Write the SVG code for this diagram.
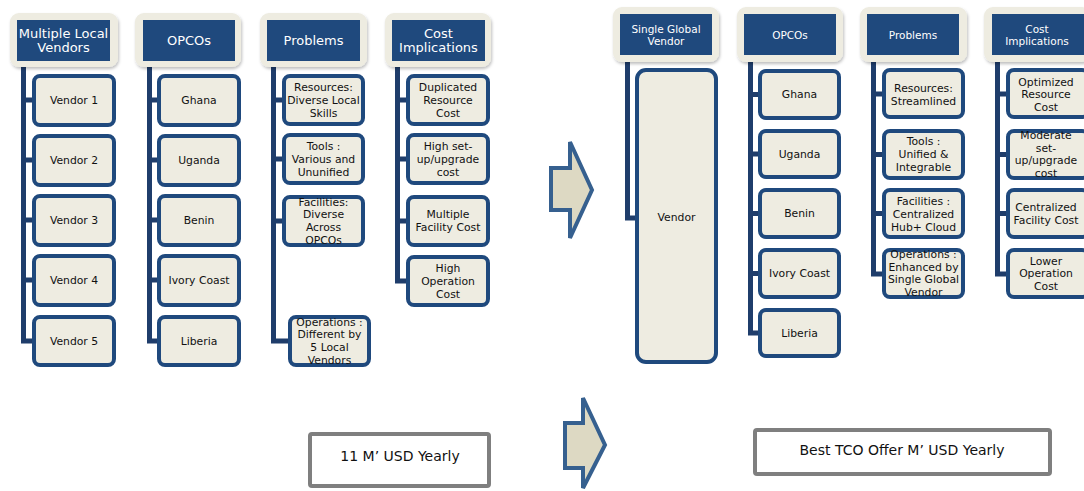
<svg xmlns="http://www.w3.org/2000/svg" width="1084" height="491" viewBox="0 0 1084 491">
<defs>
<filter id="sh" x="-10%" y="-10%" width="125%" height="130%">
<feDropShadow dx="1" dy="2" stdDeviation="1.5" flood-color="#000" flood-opacity="0.25"/>
</filter>
<style>
.hout{fill:#EEECE1;filter:url(#sh)}
.hin{fill:#1F497D}
.ht{fill:#fff;font-family:"DejaVu Sans",Verdana,sans-serif;font-size:13px;text-anchor:middle;dominant-baseline:central}
.hts{fill:#fff;font-family:"DejaVu Sans",Verdana,sans-serif;font-size:10.5px;text-anchor:middle;dominant-baseline:central}
.box{fill:#EEECE1;stroke:#1F497D;stroke-width:4}
.t{fill:#111;font-family:"DejaVu Sans",Verdana,sans-serif;font-size:10.8px;text-anchor:middle;dominant-baseline:central}
.ln{fill:none;stroke:#1F3D6B;stroke-width:5}
.arr{fill:#DDD9C3;stroke:#36608F;stroke-width:4;stroke-linejoin:miter}
.tot{fill:#fff;stroke:#7F7F7F;stroke-width:4}
.tt{fill:#111;font-family:"DejaVu Sans",Verdana,sans-serif;font-size:14px;text-anchor:middle;dominant-baseline:central}
</style>
</defs>
<rect width="1084" height="491" fill="#fff"/>

<g id="connectors">
<path class="ln" d="M23.5,60 V341 H33 M23.5,100 H33 M23.5,160 H33 M23.5,220 H33 M23.5,280 H33"/>
<path class="ln" d="M149.5,60 V341 H158 M149.5,100 H158 M149.5,160 H158 M149.5,220 H158 M149.5,280 H158"/>
<path class="ln" d="M273.5,60 V341 H289 M273.5,100 H283 M273.5,159 H283 M273.5,221 H283"/>
<path class="ln" d="M397.5,60 V281 H407 M397.5,100 H407 M397.5,159 H407 M397.5,221 H407"/>
<path class="ln" d="M627.5,54 V218 H636"/>
<path class="ln" d="M750.5,54 V333 H759 M750.5,94.5 H759 M750.5,154 H759 M750.5,213.5 H759 M750.5,273.5 H759"/>
<path class="ln" d="M873.5,54 V274 H883 M873.5,94 H883 M873.5,154.5 H883 M873.5,213.5 H883"/>
<path class="ln" d="M997.5,54 V274 H1007 M997.5,94 H1007 M997.5,154.5 H1007 M997.5,213.5 H1007"/>
</g>

<!-- Left side headers -->
<g id="h-multiple">
<rect class="hout" x="10" y="13" width="108" height="54" rx="9"/>
<rect class="hin" x="17" y="20" width="93" height="41"/>
<text class="ht" x="63.5" y="33">Multiple Local</text>
<text class="ht" x="63.5" y="47">Vendors</text>
</g>
<g id="h-opcos-l">
<rect class="hout" x="135" y="13" width="106" height="54" rx="9"/>
<rect class="hin" x="143" y="20" width="92" height="41"/>
<text class="ht" x="189" y="40.5">OPCOs</text>
</g>
<g id="h-problems-l">
<rect class="hout" x="260" y="13" width="107" height="54" rx="9"/>
<rect class="hin" x="267" y="20" width="93" height="41"/>
<text class="ht" x="313.5" y="40.5">Problems</text>
</g>
<g id="h-cost-l">
<rect class="hout" x="385" y="13" width="106" height="54" rx="9"/>
<rect class="hin" x="392" y="20" width="93" height="41"/>
<text class="ht" x="438.5" y="33">Cost</text>
<text class="ht" x="438.5" y="47">Implications</text>
</g>

<!-- Left col 1 -->
<g id="vendor1"><rect class="box" x="34" y="76" width="80" height="49" rx="6"/><text class="t" x="74" y="100.5">Vendor 1</text></g>
<g id="vendor2"><rect class="box" x="34" y="136" width="80" height="49" rx="6"/><text class="t" x="74" y="160.5">Vendor 2</text></g>
<g id="vendor3"><rect class="box" x="34" y="196" width="80" height="49" rx="6"/><text class="t" x="74" y="220.5">Vendor 3</text></g>
<g id="vendor4"><rect class="box" x="34" y="256" width="80" height="49" rx="6"/><text class="t" x="74" y="280.5">Vendor 4</text></g>
<g id="vendor5"><rect class="box" x="34" y="317" width="80" height="48" rx="6"/><text class="t" x="74" y="341">Vendor 5</text></g>

<!-- Left col 2 -->
<g id="ghana-l"><rect class="box" x="159" y="76" width="80" height="49" rx="6"/><text class="t" x="199" y="100.5">Ghana</text></g>
<g id="uganda-l"><rect class="box" x="159" y="136" width="80" height="49" rx="6"/><text class="t" x="199" y="160.5">Uganda</text></g>
<g id="benin-l"><rect class="box" x="159" y="196" width="80" height="49" rx="6"/><text class="t" x="199" y="220.5">Benin</text></g>
<g id="ivory-l"><rect class="box" x="159" y="256" width="80" height="49" rx="6"/><text class="t" x="199" y="280.5">Ivory Coast</text></g>
<g id="liberia-l"><rect class="box" x="159" y="317" width="80" height="48" rx="6"/><text class="t" x="199" y="341">Liberia</text></g>

<!-- Left col 3 -->
<g id="res-l"><rect class="box" x="284" y="76" width="79" height="48" rx="6"/>
<text class="t" x="323.5" y="87">Resources:</text><text class="t" x="323.5" y="100">Diverse Local</text><text class="t" x="323.5" y="113">Skills</text></g>
<g id="tools-l"><rect class="box" x="284" y="135" width="79" height="48" rx="6"/>
<text class="t" x="323.5" y="146">Tools :</text><text class="t" x="323.5" y="159">Various and</text><text class="t" x="323.5" y="172">Ununified</text></g>
<g id="fac-l"><rect class="box" x="284" y="197" width="79" height="48" rx="6"/>
<text class="t" x="323.5" y="202">Facilities:</text><text class="t" x="323.5" y="214.7">Diverse</text><text class="t" x="323.5" y="227.3">Across</text><text class="t" x="323.5" y="240">OPCOs</text></g>
<g id="ops-l"><rect class="box" x="290" y="317" width="79" height="48" rx="6"/>
<text class="t" x="329.5" y="322">Operations :</text><text class="t" x="329.5" y="334.7">Different by</text><text class="t" x="329.5" y="347.3">5 Local</text><text class="t" x="329.5" y="360">Vendors</text></g>

<!-- Left col 4 -->
<g id="dup-cost"><rect class="box" x="408" y="76" width="80" height="48" rx="6"/>
<text class="t" x="448" y="87">Duplicated</text><text class="t" x="448" y="100">Resource</text><text class="t" x="448" y="113">Cost</text></g>
<g id="setup-cost-l"><rect class="box" x="408" y="135" width="80" height="48" rx="6"/>
<text class="t" x="448" y="146">High set-</text><text class="t" x="448" y="159">up/upgrade</text><text class="t" x="448" y="172">cost</text></g>
<g id="fac-cost-l"><rect class="box" x="408" y="197" width="80" height="48" rx="6"/>
<text class="t" x="448" y="214">Multiple</text><text class="t" x="448" y="227">Facility Cost</text></g>
<g id="op-cost-l"><rect class="box" x="408" y="257" width="80" height="48" rx="6"/>
<text class="t" x="448" y="268">High</text><text class="t" x="448" y="281">Operation</text><text class="t" x="448" y="294">Cost</text></g>

<!-- Arrows -->
<g id="arrow-top"><polygon class="arr" points="551,168 570,168 570,142 592,190 570,238 570,210 551,210"/></g>
<g id="arrow-bottom"><polygon class="arr" points="565,423 583,423 583,398 605,445 583,488 583,468 565,468"/></g>

<!-- Right side headers -->
<g id="h-single">
<rect class="hout" x="613" y="7" width="106" height="55" rx="9"/>
<rect class="hin" x="620" y="14" width="92" height="41"/>
<text class="hts" x="666" y="28.5">Single Global</text>
<text class="hts" x="666" y="41">Vendor</text>
</g>
<g id="h-opcos-r">
<rect class="hout" x="737" y="7" width="106" height="55" rx="9"/>
<rect class="hin" x="744" y="14" width="92" height="41"/>
<text class="hts" x="790" y="35">OPCOs</text>
</g>
<g id="h-problems-r">
<rect class="hout" x="860" y="7" width="107" height="55" rx="9"/>
<rect class="hin" x="867" y="14" width="92" height="41"/>
<text class="hts" x="913" y="35">Problems</text>
</g>
<g id="h-cost-r">
<rect class="hout" x="984" y="7" width="107" height="55" rx="9"/>
<rect class="hin" x="992" y="14" width="94" height="41"/>
<text class="hts" x="1037" y="28.5">Cost</text>
<text class="hts" x="1037" y="41">Implications</text>
</g>

<!-- Right col 1 -->
<g id="vendor-single"><rect class="box" x="637" y="70" width="79" height="292" rx="9"/><text class="t" x="676.5" y="217">Vendor</text></g>

<!-- Right col 2 -->
<g id="ghana-r"><rect class="box" x="760" y="71" width="79" height="47" rx="6"/><text class="t" x="799.5" y="94.5">Ghana</text></g>
<g id="uganda-r"><rect class="box" x="760" y="131" width="79" height="46" rx="6"/><text class="t" x="799.5" y="154">Uganda</text></g>
<g id="benin-r"><rect class="box" x="760" y="190" width="79" height="47" rx="6"/><text class="t" x="799.5" y="213.5">Benin</text></g>
<g id="ivory-r"><rect class="box" x="760" y="250" width="79" height="47" rx="6"/><text class="t" x="799.5" y="273.5">Ivory Coast</text></g>
<g id="liberia-r"><rect class="box" x="760" y="310" width="79" height="46" rx="6"/><text class="t" x="799.5" y="333">Liberia</text></g>

<!-- Right col 3 -->
<g id="res-r"><rect class="box" x="884" y="70" width="79" height="47" rx="6"/>
<text class="t" x="923.5" y="88">Resources:</text><text class="t" x="923.5" y="101">Streamlined</text></g>
<g id="tools-r"><rect class="box" x="884" y="131" width="79" height="47" rx="6"/>
<text class="t" x="923.5" y="141">Tools :</text><text class="t" x="923.5" y="154.5">Unified &amp;</text><text class="t" x="923.5" y="167.5">Integrable</text></g>
<g id="fac-r"><rect class="box" x="884" y="190" width="79" height="47" rx="6"/>
<text class="t" x="923.5" y="201">Facilities :</text><text class="t" x="923.5" y="214">Centralized</text><text class="t" x="923.5" y="227">Hub+ Cloud</text></g>
<g id="ops-r"><rect class="box" x="884" y="250" width="79" height="47" rx="6"/>
<text class="t" x="923.5" y="254.5">Operations :</text><text class="t" x="923.5" y="267">Enhanced by</text><text class="t" x="923.5" y="279.5">Single Global</text><text class="t" x="923.5" y="292">Vendor</text></g>

<!-- Right col 4 -->
<g id="opt-cost"><rect class="box" x="1008" y="70" width="80" height="47" rx="6"/>
<text class="t" x="1046" y="82">Optimized</text><text class="t" x="1046" y="94.5">Resource</text><text class="t" x="1046" y="107">Cost</text></g>
<g id="setup-cost-r"><rect class="box" x="1008" y="131" width="80" height="47" rx="6"/>
<text class="t" x="1046" y="135.5">Moderate</text><text class="t" x="1046" y="148">set-</text><text class="t" x="1046" y="160.5">up/upgrade</text><text class="t" x="1046" y="173">cost</text></g>
<g id="fac-cost-r"><rect class="box" x="1008" y="190" width="80" height="47" rx="6"/>
<text class="t" x="1046" y="207">Centralized</text><text class="t" x="1046" y="220">Facility Cost</text></g>
<g id="op-cost-r"><rect class="box" x="1008" y="250" width="80" height="47" rx="6"/>
<text class="t" x="1046" y="261">Lower</text><text class="t" x="1046" y="273.5">Operation</text><text class="t" x="1046" y="286">Cost</text></g>

<!-- Totals -->
<g id="total-left"><rect class="tot" x="310" y="434" width="179" height="52" rx="2"/><text class="tt" x="400" y="456">11 M’ USD Yearly</text></g>
<g id="total-right"><rect class="tot" x="755" y="430" width="295" height="44" rx="2"/><text class="tt" x="902" y="450">Best TCO Offer M’ USD Yearly</text></g>
</svg>
